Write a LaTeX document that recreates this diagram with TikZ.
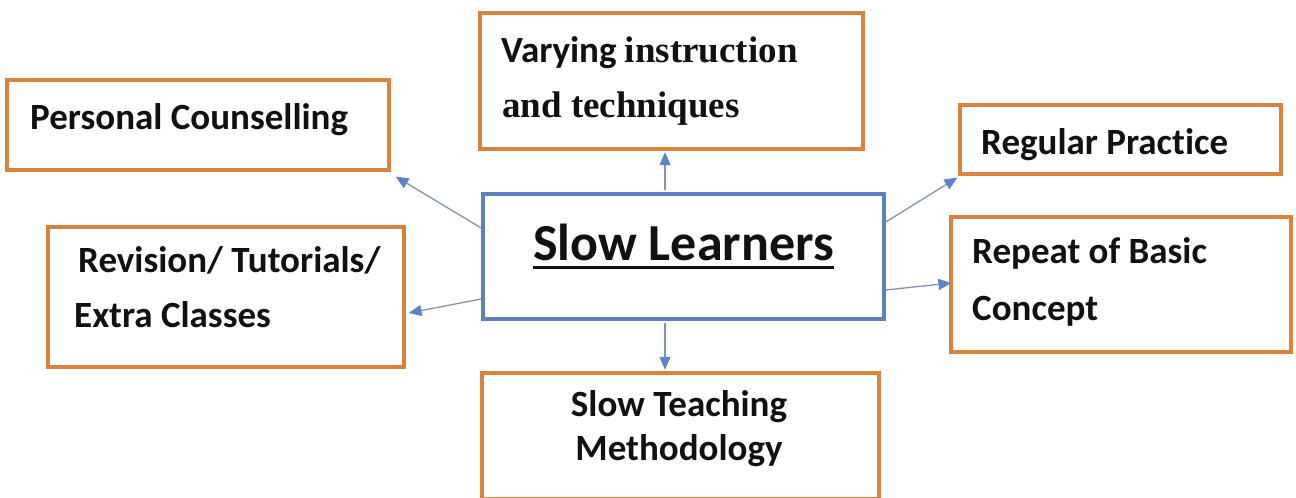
\documentclass[tikz,border=0pt]{standalone}
\usepackage{fontspec}
\setmainfont{Carlito}[Ligatures=NoCommon]
\newfontfamily\timesbf{Liberation Serif}
\usetikzlibrary{arrows.meta,calc}
\definecolor{boxorange}{HTML}{D9833E}
\definecolor{boxblue}{HTML}{5E80BD}
\definecolor{arrowline}{HTML}{7F93B5}
\definecolor{arrowhead}{HTML}{5B84C8}
\definecolor{txt}{HTML}{111111}
\begin{document}
\begin{tikzpicture}[x=1pt,y=1pt,
  obox/.style={draw=boxorange,line width=3.2pt,fill=white,rectangle,inner sep=0pt},
  cbox/.style={draw=boxblue,line width=3.6pt,fill=white,rectangle,inner sep=0pt},
  lbl/.style={inner sep=0pt,anchor=base west,text=txt,font=\fontsize{37}{44}\selectfont\bfseries},
  link/.style={draw=arrowline,line width=1.3pt,-{Triangle[length=13pt,width=11pt,fill=arrowhead,color=arrowhead]}}]
\useasboundingbox (0,0) rectangle (1296,498);
\fill[white] (0,0) rectangle (1296,498);
% boxes
\node[obox,minimum width=382pt,minimum height=90pt] (pc) at (198,373) {};
\node[obox,minimum width=383pt,minimum height=136pt] (vi) at (671.5,417) {};
\node[obox,minimum width=321pt,minimum height=69pt] (rp) at (1120.5,358.5) {};
\node[obox,minimum width=340pt,minimum height=135pt] (rb) at (1121,213.5) {};
\node[obox,minimum width=356pt,minimum height=140pt] (rv) at (226,201) {};
\node[obox,minimum width=397pt,minimum height=126pt] (st) at (680.5,62) {};
\node[cbox,minimum width=401pt,minimum height=125pt] (c) at (683.5,241.5) {};
% labels
\node[lbl] (tpc) at (30,368) {Personal Counselling};
\node[lbl] (tvi1) at (501,435) {Varying {\timesbf instruction}};
\node[lbl] (tvi2) at (502,380) {\timesbf and techniques};
\node[lbl] (trp) at (981,343) {Regular Practice};
\node[lbl] (trb1) at (972,234) {Repeat of Basic};
\node[lbl] (trb2) at (972,177) {Concept};
\node[lbl] (trv1) at (78,225) {Revision/ Tutorials/};
\node[lbl] (trv2) at (74,170) {Extra Classes};
\node[lbl,anchor=base] (tst1) at (679,81) {Slow Teaching};
\node[lbl,anchor=base] (tst2) at (679,37) {Methodology};
\node[lbl,anchor=base,font=\fontsize{52}{60}\selectfont\bfseries] (tc) at (683.5,237) {Slow Learners};
\draw[txt,line width=3.5pt] ($(tc.base west)+(0,-6.5)$) -- ($(tc.base east)+(0,-6.5)$);
% connectors
\draw[link] ($(c.west)+(0,28.5)$) -- ($(pc.south east)+(5,-5)$);
\draw[link] ($(c.west)+(0,-42.5)$) -- ($(rv.east)+(3,-16)$);
\draw[link] ($(c.north)+(-18.5,1.8)$) -- ($(vi.south)+(-6.5,-1.6)$);
\draw[link] ($(c.south)+(-18.5,-1.8)$) -- ($(st.north)+(-15.5,1.6)$);
\draw[link] ($(c.east)+(0,34.5)$) -- ($(rp.south west)+(-1,-2)$);
\draw[link] ($(c.east)+(0,-33.5)$) -- ($(rb.west)+(2,1.5)$);
\end{tikzpicture}
\end{document}
